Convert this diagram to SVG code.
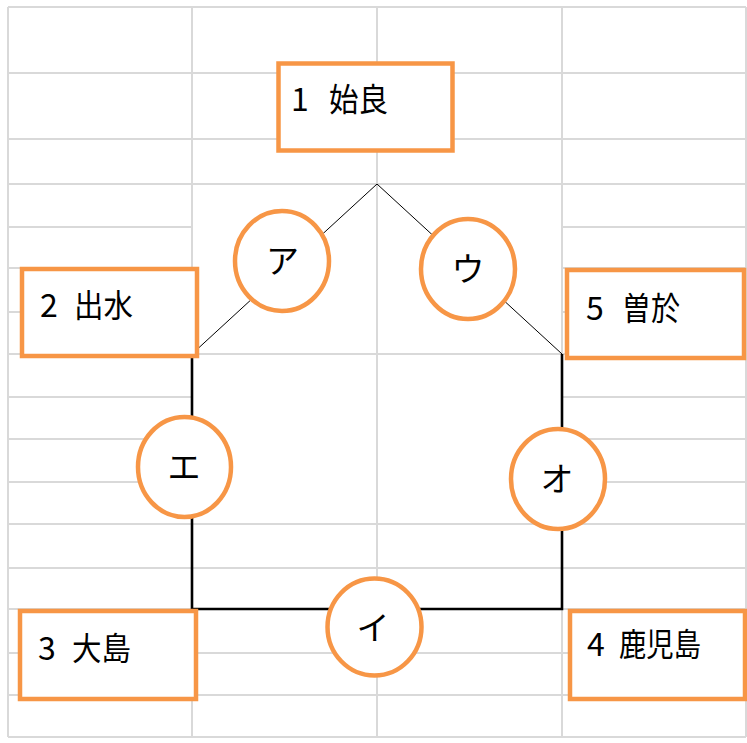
<svg xmlns="http://www.w3.org/2000/svg" width="747" height="743" viewBox="0 0 747 743">
<style>
.grid{stroke:#d9d9d9;stroke-width:2;fill:none}
.thin{stroke:#000;stroke-width:1;fill:none}
.thick{stroke:#000;stroke-width:2.6;fill:none}
.box{fill:#fff;stroke:#f79646;stroke-width:4.5}
.circ{fill:#fff;stroke:#f79646;stroke-width:4.5}
.t{font-family:"Noto Sans CJK JP","Noto Sans",sans-serif;font-size:32px;fill:#000}
.k{font-family:"Noto Sans CJK JP","Noto Sans",sans-serif;font-size:33px;fill:#000;text-anchor:middle}
</style>
<rect x="0" y="0" width="747" height="743" fill="#fff"/>
<g id="grid" class="grid">
<path d="M8,7V737M192,7V737M377,7V737M562,7V737M746,7V737"/>
<path d="M8,7H746M8,73H746M8,139H746M8,184H746M8,354H746M8,524H746M8,568H746M8,609H746M8,653H746M8,695H746M8,737H746"/>
<path d="M8,227H192M8,268H192M8,312H192M8,397H192M8,439H192M8,482H192"/>
<path d="M562,227H746M562,268H746M562,312H746M562,397H746M562,439H746M562,482H746"/>
</g>
<g id="connectors">
<path class="thin" d="M192,354L377,184L562,354"/>
<path class="thick" d="M192,354V609H562V354"/>
</g>
<g id="node1">
<rect class="box" x="278.5" y="63.5" width="174" height="87"/>
<text class="t" x="291" y="111">1</text>
<text class="t" x="329" y="111" textLength="59" lengthAdjust="spacingAndGlyphs">始良</text>
</g>
<g id="node2">
<rect class="box" x="22" y="269" width="175" height="87"/>
<text class="t" x="40" y="317">2</text>
<text class="t" x="74" y="317" textLength="59" lengthAdjust="spacingAndGlyphs">出水</text>
</g>
<g id="node5">
<rect class="box" x="567" y="270" width="177" height="88"/>
<text class="t" x="586" y="320">5</text>
<text class="t" x="622" y="320" textLength="58" lengthAdjust="spacingAndGlyphs">曽於</text>
</g>
<g id="node3">
<rect class="box" x="20" y="611" width="176" height="88"/>
<text class="t" x="38" y="660">3</text>
<text class="t" x="72" y="660" textLength="59" lengthAdjust="spacingAndGlyphs">大島</text>
</g>
<g id="node4">
<rect class="box" x="570" y="611" width="175" height="88"/>
<text class="t" x="587" y="656">4</text>
<text class="t" x="619" y="656" textLength="82" lengthAdjust="spacingAndGlyphs">鹿児島</text>
</g>
<g id="nodeA">
<ellipse class="circ" cx="282" cy="261" rx="47" ry="50"/>
<text class="k" x="282.5" y="273">ア</text>
</g>
<g id="nodeU">
<ellipse class="circ" cx="468" cy="269" rx="47" ry="50"/>
<text class="k" x="468" y="281">ウ</text>
</g>
<g id="nodeE">
<ellipse class="circ" cx="184.5" cy="467" rx="46.5" ry="50"/>
<text class="k" x="184" y="479">エ</text>
</g>
<g id="nodeO">
<ellipse class="circ" cx="558" cy="479" rx="47" ry="50"/>
<text class="k" x="557" y="491">オ</text>
</g>
<g id="nodeI">
<ellipse class="circ" cx="374.5" cy="627" rx="47" ry="48.5"/>
<text class="k" x="373" y="640">イ</text>
</g>
</svg>
